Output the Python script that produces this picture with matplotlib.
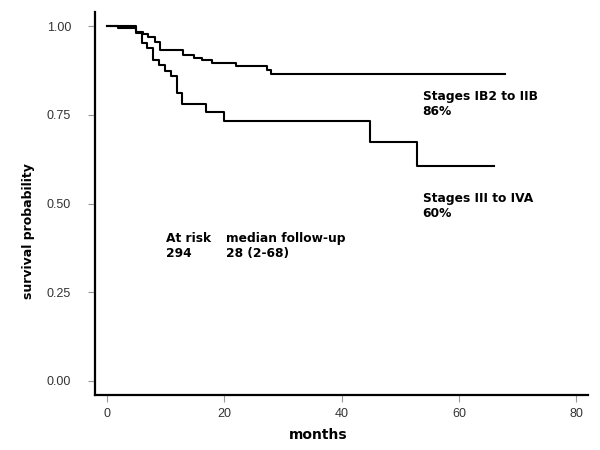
import matplotlib
matplotlib.use('Agg')
import matplotlib.pyplot as plt

# Kaplan-Meier steps (months, survival)
t_early = [0, 4.9, 6.1, 7.0, 8.1, 9.0, 12.9, 14.9, 16.1, 17.8, 22.0, 27.2, 28.0, 67.8]
s_early = [1.0, 0.985, 0.977, 0.971, 0.957, 0.932, 0.920, 0.910, 0.904, 0.896, 0.889, 0.878, 0.865, 0.865]

t_late = [0, 1.8, 4.9, 5.9, 6.8, 7.8, 8.9, 9.8, 10.9, 11.9, 12.8, 16.9, 19.9, 44.9, 52.9, 65.9]
s_late = [1.0, 0.996, 0.982, 0.952, 0.938, 0.906, 0.892, 0.875, 0.859, 0.812, 0.780, 0.759, 0.733, 0.673, 0.606, 0.606]

x_ticks = [0, 20, 40, 60, 80]
y_ticks = [0.0, 0.25, 0.5, 0.75, 1.0]

fig = plt.figure(figsize=(6, 4.5), dpi=100)
ax = fig.add_axes([0.158, 0.122, 0.822, 0.851])

ax.step(t_early, s_early, where='post', color='black', lw=1.5)
ax.step(t_late, s_late, where='post', color='black', lw=1.5)

ax.set_xlim(-2.1, 82)
ax.set_ylim(-0.04, 1.04)
ax.set_xticks(x_ticks)
ax.set_yticks(y_ticks)
ax.set_yticklabels([f'{v:.2f}' for v in y_ticks])

for side in ['top', 'right']:
    ax.spines[side].set_visible(False)
for side in ['left', 'bottom']:
    ax.spines[side].set_linewidth(1.6)

ax.tick_params(axis='both', colors='#999999', length=5, width=0.8, labelcolor='#333333')
ax.tick_params(axis='y', pad=12)
ax.tick_params(axis='x', pad=4)
for lab in ax.get_xticklabels() + ax.get_yticklabels():
    lab.set_family('Liberation Sans')
    lab.set_fontsize(9)

ax.set_xlabel('months', fontsize=10, fontweight='bold')
ax.set_ylabel('survival probability', fontsize=9, fontweight='bold')
ax.xaxis.set_label_coords(0.452, -0.085)
ax.yaxis.set_label_coords(-0.122, 0.428)

txt = dict(fontsize=8.8, fontweight='bold', ha='left', va='center', linespacing=1.25)
ax.text(10.0, 0.38, 'At risk\n294', **txt)
ax.text(20.2, 0.38, 'median follow-up\n28 (2-68)', **txt)
ax.text(53.8, 0.781, 'Stages IB2 to IIB\n86%', **txt)
ax.text(53.8, 0.493, 'Stages III to IVA\n60%', **txt)

fig.savefig('out.png', dpi=100)
